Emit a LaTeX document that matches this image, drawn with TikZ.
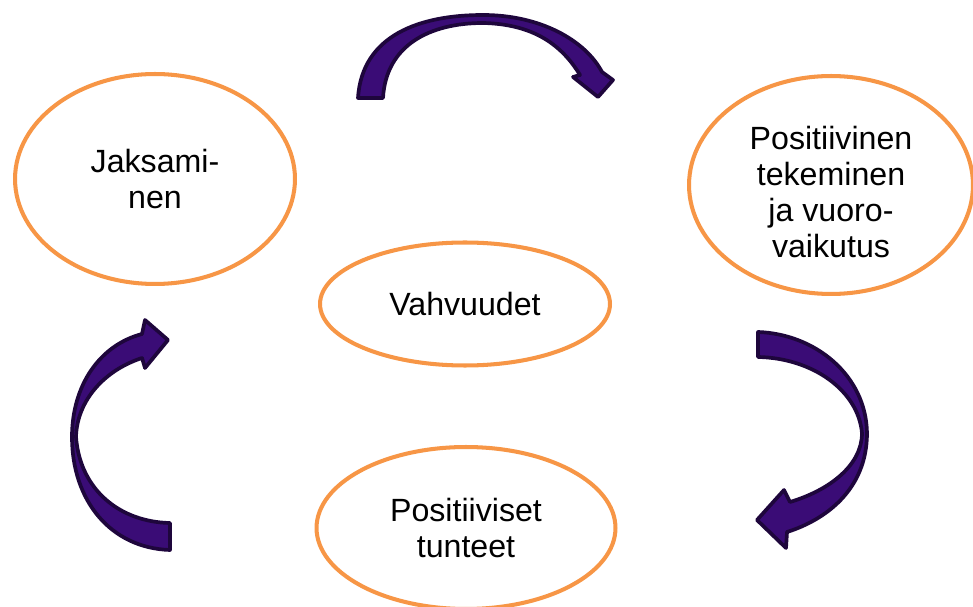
\documentclass[tikz,border=0pt]{standalone}
\usepackage{fontspec}
\setmainfont{Liberation Sans}
\usepackage{xcolor}
\usepackage{tikz}
\usetikzlibrary{shapes.geometric, positioning, calc}

\definecolor{bubbleorange}{RGB}{247,150,70}
\definecolor{arrowfill}{RGB}{58,12,118}
\definecolor{arrowline}{RGB}{30,6,60}

\tikzset{
    bubble/.style={ellipse, draw=bubbleorange, line width=2.3pt, fill=white,
        align=center, inner sep=0pt, font=\fontsize{18.3}{20.4}\selectfont},
    bentarrow/.style={fill=arrowfill, draw=arrowline, line width=2.1pt, line join=round}
}

\begin{document}
\begin{tikzpicture}[x=0.02cm, y=-0.02cm]
\useasboundingbox (0,0) rectangle (973,607);

% Ellipses
\node[bubble, minimum width=5.6cm, minimum height=4.2cm] (jaksaminen) at (155,179) {Jaksami-\\nen};
\node[bubble, minimum width=5.68cm, minimum height=4.36cm] (tekeminen) at (831,185) {\rule{0pt}{0.75cm}Positiivinen\\tekeminen\\ja vuoro-\\vaikutus};
\node[bubble, minimum width=5.8cm, minimum height=2.46cm] (vahvuudet) at (465,304) {Vahvuudet};
\node[bubble, minimum width=5.98cm, minimum height=3.24cm] (tunteet) at (466,528) {Positiiviset\\tunteet};

% Curved arrows (top, right, left)
\draw[bentarrow] (358,98) .. controls (362,35) and (420,15) .. (483,15)
    .. controls (540,15) and (585,40) .. (602,72) -- (613,80) -- (598,97) -- (573,77) -- (580,75)
    .. controls (560,42) and (530,24) .. (483,23)
    .. controls (430,23) and (386,45) .. (383,98) -- cycle;

\draw[bentarrow] (758,332) .. controls (815,334) and (866,375) .. (867,433)
    .. controls (867,490) and (825,520) .. (787,532) -- (786,548) -- (757,520) -- (784,490) -- (790,502)
    .. controls (830,490) and (862,465) .. (862,433)
    .. controls (858,390) and (812,358) .. (758,357) -- cycle;

\draw[bentarrow] (170,550) .. controls (110,548) and (72,500) .. (72,437)
    .. controls (72,385) and (100,345) .. (142,334) -- (145,320) -- (168,340) -- (145,368) -- (142,358)
    .. controls (105,370) and (77,400) .. (76,437)
    .. controls (80,490) and (120,522) .. (170,523) -- cycle;

\end{tikzpicture}
\end{document}
